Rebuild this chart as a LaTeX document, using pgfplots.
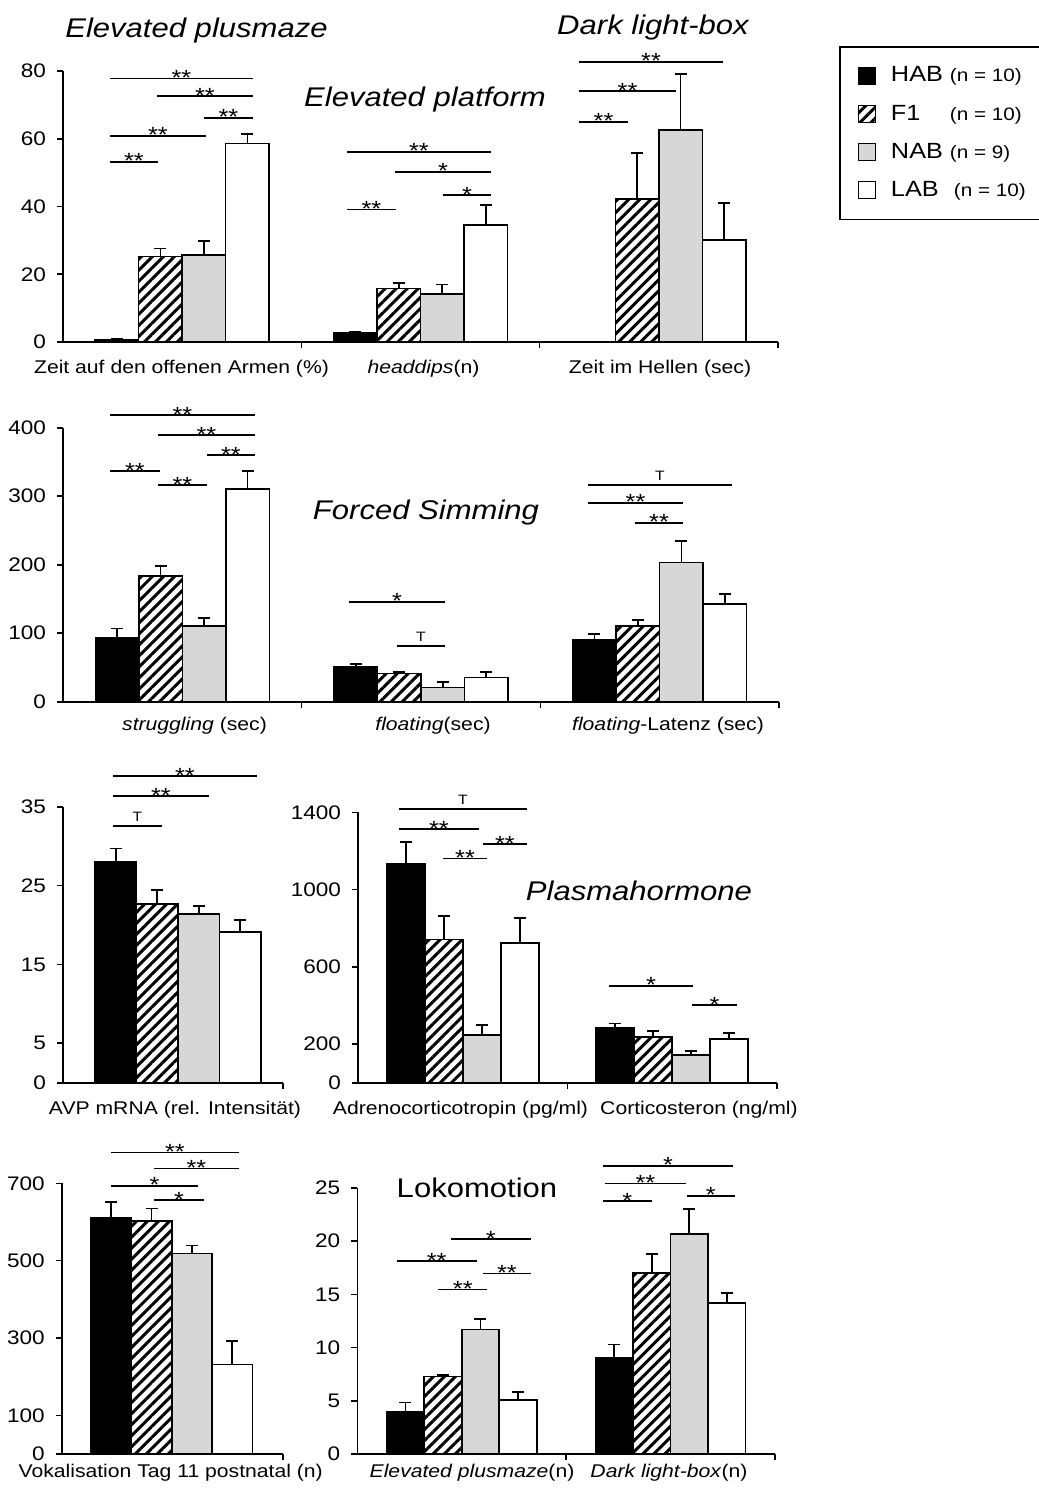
\documentclass[border=0pt]{standalone}
\usepackage{fontspec}
\setmainfont{Liberation Sans}[FakeStretch=1.15]
\usepackage{pgfplots}
\pgfplotsset{compat=1.18}
\usetikzlibrary{patterns.meta}
\definecolor{nabgray}{RGB}{215,215,215}

\newcommand\tfont{\fontsize{13.5}{15}\selectfont}
\newcommand\lfont{\fontsize{9.2}{11}\selectfont}
\newcommand\kfont{\fontsize{9.8}{11}\selectfont}
\newcommand\sfont{\fontsize{11}{12}\selectfont}
\newcommand\Tfont{\fontsize{6.8}{8}\selectfont}
\newcommand\legfont{\fontsize{11}{13}\selectfont}
\newcommand\nfont{\fontsize{9}{10}\selectfont}

\newcommand\sig[4]{%
  \draw[line width=0.8pt] (#1,#3) -- (#2,#3);
  \node[font=\sfont, anchor=base, inner sep=0pt, yshift=-3.6pt] at ({(#1+#2)/2},#3) {#4};}
\newcommand\sigT[3]{%
  \draw[line width=0.8pt] (#1,#3) -- (#2,#3);
  \node[font=\Tfont, anchor=base, inner sep=0pt, yshift=2.5pt] at ({(#1+#2)/2},#3) {T};}

\pgfplotsset{
  panel/.style={
    scale only axis,
    anchor=south west,
    axis x line=bottom, axis y line=left,
    axis line style={-, line width=0.8pt},
    ymin=0,
    ybar=0pt,
    tick align=outside,
    major tick length=3pt,
    tick style={line width=0.8pt, black},
    xticklabels={},
    yticklabel style={font=\kfont, xshift=-2pt},
    /pgf/number format/assume math mode=true,
    /pgf/number format/1000 sep={},
    clip=false,
    error bars/y dir=plus,
    error bars/y explicit,
    error bars/error bar style={line width=0.9pt, black},
    error bars/error mark options={rotate=90, line width=0.9pt, mark size=3pt, black},
  },
  sqleg/.style={legend image code/.code={\draw[##1, line width=0.6pt] (0pt,-4.25pt) rectangle (8.5pt,4.25pt);}},
  hab/.style={draw=black, fill=black, line width=0.8pt, sqleg},
  fone/.style={draw=black, pattern={Lines[angle=45,distance=3.9pt,line width=1.5pt]}, pattern color=black, line width=0.8pt, sqleg},
  nab/.style={draw=black, fill=nabgray, line width=0.8pt, sqleg},
  lab/.style={draw=black, fill=white, line width=0.8pt, sqleg},
}

\begin{document}
\begin{tikzpicture}
\path[use as bounding box] (0,0) rectangle (519.5pt,-745pt);

% Row 1: Elevated plusmaze / platform / Dark light-box
\begin{axis}[panel, at={(31.5pt,-171pt)}, width=357.5pt, height=135.5pt,
  xmin=-0.5, xmax=2.5, ymax=80, ytick={0,20,40,60,80}, xtick={0.5,1.5,2.5},
  bar width=21.75pt,
  legend style={at={(axis description cs:1.0853,1.0923)}, anchor=north west,
    draw=black, line width=0.8pt, font=\legfont, inner xsep=9pt, inner ysep=8pt,
    row sep=6pt, cells={anchor=west}},
  legend cell align=left]
\addplot[hab]  coordinates {(0,0.6) +- (0,0.4) (1,2.6) +- (0,0.4) (2,0) +- (0,0)};
\addlegendentry{\hspace*{5.5pt}\makebox[29.5pt][l]{HAB}{\nfont(n = 10)}}
\addplot[fone] coordinates {(0,25.2) +- (0,2.4) (1,15.8) +- (0,1.7) (2,42.2) +- (0,13.5)};
\addlegendentry{\hspace*{5.5pt}\makebox[29.5pt][l]{F1}{\nfont(n = 10)}}
\addplot[nab]  coordinates {(0,25.7) +- (0,4.2) (1,14.1) +- (0,2.9) (2,62.5) +- (0,16.5)};
\addlegendentry{\hspace*{5.5pt}\makebox[29.5pt][l]{NAB}{\nfont(n = 9)}}
\addplot[lab]  coordinates {(0,58.6) +- (0,2.9) (1,34.5) +- (0,5.9) (2,30.1) +- (0,11.0)};
\addlegendentry{\hspace*{5.5pt}\makebox[31.5pt][l]{LAB}{\nfont(n = 10)}}
\end{axis}

% Row 2: Forced swimming
\begin{axis}[panel, at={(31.5pt,-350.85pt)}, width=358pt, height=137pt,
  xmin=-0.5, xmax=2.5, ymax=400, ytick={0,100,200,300,400}, xtick={0.5,1.5,2.5},
  bar width=21.75pt]
\addplot[hab]  coordinates {(0,94) +- (0,13) (1,50.7) +- (0,4.3) (2,91) +- (0,7.4)};
\addplot[fone] coordinates {(0,183.5) +- (0,14.5) (1,41.4) +- (0,2.4) (2,110.5) +- (0,8.5)};
\addplot[nab]  coordinates {(0,110.5) +- (0,11.2) (1,21) +- (0,8.2) (2,203) +- (0,31.6)};
\addplot[lab]  coordinates {(0,310.5) +- (0,26.3) (1,35.6) +- (0,8.2) (2,142.6) +- (0,14.2)};
\end{axis}

% Row 3 left: AVP mRNA
\begin{axis}[panel, at={(31.5pt,-541.35pt)}, width=110pt, height=138pt,
  xmin=-115, xmax=105, ymax=35, ytick={0,5,15,25,35}, xtick={105},
  bar width=20.75pt]
\addplot[hab]  coordinates {(0,28.0) +- (0,1.7)};
\addplot[fone] coordinates {(0,22.7) +- (0,1.7)};
\addplot[nab]  coordinates {(0,21.4) +- (0,1.0)};
\addplot[lab]  coordinates {(0,19.1) +- (0,1.5)};
\end{axis}

% Row 3 right: Plasmahormone
\begin{axis}[panel, at={(179pt,-541.35pt)}, width=209.5pt, height=135.2pt,
  xmin=-0.5, xmax=1.5, ymax=1400, ytick={0,200,600,1000,1400}, xtick={0.5,1.5},
  bar width=19pt]
\addplot[hab]  coordinates {(0,1132) +- (0,116) (1,282) +- (0,25)};
\addplot[fone] coordinates {(0,742) +- (0,123) (1,238) +- (0,31)};
\addplot[nab]  coordinates {(0,247) +- (0,52) (1,143) +- (0,21)};
\addplot[lab]  coordinates {(0,722) +- (0,129) (1,226) +- (0,30)};
\end{axis}

% Row 4 left: Vokalisation
\begin{axis}[panel, at={(30.85pt,-727pt)}, width=110.5pt, height=135.35pt,
  xmin=-110, xmax=111, ymax=700, ytick={0,100,300,500,700}, xtick={111},
  bar width=20.2pt]
\addplot[hab]  coordinates {(0,612) +- (0,40)};
\addplot[fone] coordinates {(0,602.5) +- (0,32.5)};
\addplot[nab]  coordinates {(0,519) +- (0,20)};
\addplot[lab]  coordinates {(0,232) +- (0,61)};
\end{axis}

% Row 4 right: Lokomotion
\begin{axis}[panel, at={(178.65pt,-727pt)}, width=208.85pt, height=133pt,
  xmin=-0.5, xmax=1.5, ymax=25, ytick={0,5,10,15,20,25}, xtick={0.5,1.5},
  bar width=18.75pt]
\addplot[hab]  coordinates {(0,3.97) +- (0,0.88) (1,9.0) +- (0,1.3)};
\addplot[fone] coordinates {(0,7.3) +- (0,0.1) (1,17.0) +- (0,1.8)};
\addplot[nab]  coordinates {(0,11.7) +- (0,1.0) (1,20.7) +- (0,2.3)};
\addplot[lab]  coordinates {(0,5.07) +- (0,0.78) (1,14.2) +- (0,0.9)};
\end{axis}

\begin{scope}[x=0.5pt, y=-0.5pt]
% titles
\node[font=\tfont\itshape, anchor=base] at (196.5,37) {Elevated plusmaze};
\node[font=\tfont\itshape, anchor=base] at (425,106) {Elevated platform};
\node[font=\tfont\itshape, anchor=base] at (653,34) {Dark light-box};
\node[font=\tfont\itshape, anchor=base] at (426,519) {Forced Simming};
\node[font=\tfont\itshape, anchor=base] at (639,900) {Plasmahormone};
\node[font=\tfont, anchor=base] at (477,1197) {Lokomotion};
% category labels
\node[font=\lfont, anchor=base] at (181.5,373) {Zeit auf den offenen Armen (\%)};
\node[font=\lfont, anchor=base] at (423.5,373) {\textit{headdips}(n)};
\node[font=\lfont, anchor=base] at (660,373) {Zeit im Hellen (sec)};
\node[font=\lfont, anchor=base] at (194.5,730) {\textit{struggling} (sec)};
\node[font=\lfont, anchor=base] at (433,730) {\textit{floating}(sec)};
\node[font=\lfont, anchor=base] at (668,730) {\textit{floating}-Latenz (sec)};
\node[font=\lfont, anchor=base] at (175,1114) {AVP mRNA (rel. Intensität)};
\node[font=\lfont, anchor=base] at (460.5,1114) {Adrenocorticotropin (pg/ml)};
\node[font=\lfont, anchor=base] at (699,1114) {Corticosteron (ng/ml)};
\node[font=\lfont, anchor=base] at (170.7,1477) {Vokalisation Tag 11 postnatal (n)};
\node[font=\lfont, anchor=base] at (472,1477) {\textit{Elevated plusmaze}(n)};
\node[font=\lfont, anchor=base] at (669,1477) {\textit{Dark light-box}(n)};
% significance, row 1
\sig{110}{253}{78.3}{**}
\sig{157}{253}{96}{**}
\sig{204}{253}{117.7}{**}
\sig{110}{206}{135.7}{**}
\sig{110}{158}{161.7}{**}
\sig{347}{491}{151.7}{**}
\sig{395}{491}{171.7}{*}
\sig{443}{491}{195}{*}
\sig{347}{396}{209.3}{**}
\sig{579}{723}{61.7}{**}
\sig{579}{676}{91}{**}
\sig{579}{628}{121.7}{**}
% row 2
\sig{110}{255}{415}{**}
\sig{158}{255}{435}{**}
\sig{207}{255}{455}{**}
\sig{110}{160}{471}{**}
\sig{158}{207}{485}{**}
\sig{349}{445}{601.7}{*}
\sigT{397}{445}{646}
\sigT{588}{732}{485}
\sig{588}{683}{502.7}{**}
\sig{635}{683}{522.7}{**}
% row 3
\sig{113}{257}{776}{**}
\sig{113}{209}{796}{**}
\sigT{113}{162}{826}
\sigT{399}{527}{809}
\sig{399}{479}{829}{**}
\sig{483}{527}{844}{**}
\sig{443}{487}{858.3}{**}
\sig{609}{693}{985.7}{*}
\sig{692}{737}{1005}{*}
% row 4
\sig{111}{239}{1152.3}{**}
\sig{154}{239}{1168.3}{**}
\sig{111}{198}{1185.7}{*}
\sig{154}{204}{1200}{*}
\sig{450.7}{531}{1239}{*}
\sig{396.7}{476.7}{1261}{**}
\sig{482.7}{531}{1273.3}{**}
\sig{438.3}{487.3}{1289.3}{**}
\sig{602.7}{733.3}{1165.7}{*}
\sig{605}{685.7}{1183.3}{**}
\sig{602.7}{651.7}{1201}{*}
\sig{686.7}{735}{1195.7}{*}
\end{scope}
\end{tikzpicture}
\end{document}
